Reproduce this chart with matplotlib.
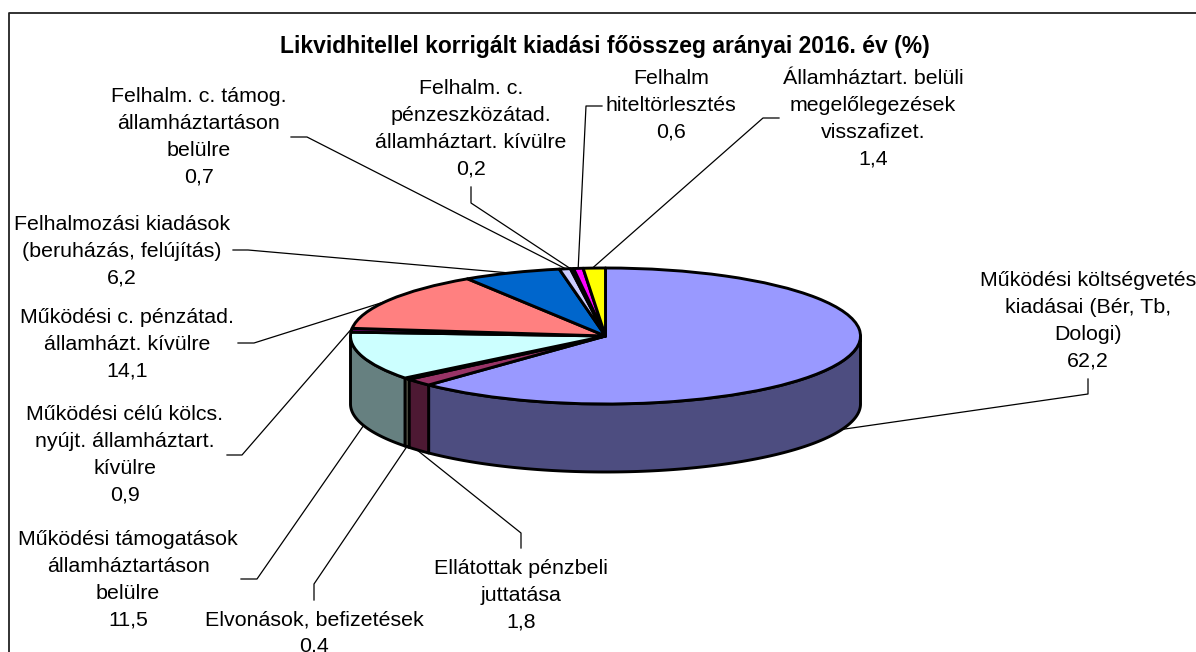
#!/usr/bin/env python3
#encoding: utf-8

import matplotlib
matplotlib.use("Agg")
import matplotlib.pyplot as plt
import numpy as np

title = "Likvidhitellel korrigált kiadási főösszeg arányai 2016. év (%)"

names = [
    "Működési költségvetés\nkiadásai (Bér, Tb,\nDologi)",
    "Ellátottak pénzbeli\njuttatása",
    "Elvonások, befizetések",
    "Működési támogatások\nállamháztartáson\nbelülre",
    "Működési célú kölcs.\nnyújt. államháztart.\nkívülre",
    "Működési c. pénzátad.\nállamházt. kívülre",
    "Felhalmozási kiadások\n(beruházás, felújítás)",
    "Felhalm. c. támog.\nállamháztartáson\nbelülre",
    "Felhalm. c.\npénzeszközátad.\nállamháztart. kívülre",
    "Felhalm\nhiteltörlesztés",
    "Államháztart. belüli\nmegelőlegezések\nvisszafizet.",
]
values = [62.2, 1.8, 0.4, 11.5, 0.9, 14.1, 6.2, 0.7, 0.2, 0.6, 1.4]
top_colors = ["#9999FF", "#993366", "#FFFFCC", "#CCFFFF", "#660066", "#FF8080",
              "#0066CC", "#CCCCFF", "#000080", "#FF00FF", "#FFFF00"]
side_colors = ["#4D4D80", "#4D1933", "#80806A", "#668080", "#330033", "#804040",
               "#003366", "#666680", "#000040", "#800080", "#808000"]

# label centre x, y of first line centre in pixels
label_pos = [(1088, 279), (521, 567), (314, 618), (128, 538), (125, 413),
             (127, 316), (122, 223), (199, 95), (471, 87), (671, 77), (873, 77)]
# leader lines in pixels, first point goes under the pie
leaders = [
    [(824, 432), (1088, 394), (1088, 379)],
    [(412, 446), (521, 533), (521, 548)],
    [(410, 442), (314, 584), (314, 600)],
    [(366, 422), (257, 579), (241, 579)],
    [(354, 326), (242, 455), (227, 455)],
    [(387, 301), (254, 343), (238, 343)],
    [(510, 273), (248, 250), (233, 250)],
    [(570, 271), (307, 137), (291, 137)],
    [(574, 271), (471, 203), (471, 187)],
    [(578, 272), (586, 106), (602, 106)],
    [(588, 272), (763, 118), (779, 118)],
]

W, H = 1196, 652
cx, cy, rx, ry, depth = 605.5, 336, 255, 68, 68

plt.rcParams["font.family"] = ["Liberation Sans", "DejaVu Sans"]
fig = plt.figure(figsize=(W / 100, H / 100), dpi=100)

ax = fig.add_axes([0, 0, 1, 1])
ax.set_xlim(0, W)
ax.set_ylim(H, 0)
ax.axis("off")

# frame, only top and left are in the picture
ax.plot([9, 9, W + 5], [H + 5, 13, 13], c="#222222", lw=1.3)

ax.text(605, 47, title, ha="center", va="center", fontsize=16.5, fontweight="bold")

for pts in leaders:
    ax.plot([p[0] for p in pts], [p[1] for p in pts], c="black", lw=0.9, zorder=1)

# side wall first, clockwise from 12 o'clock
pa = fig.add_axes([(cx - rx) / W, 1 - (cy + ry) / H, 2 * rx / W, 2 * ry / H])
d = depth / ry
ang = np.cumsum([0] + values) / 100 * 2 * np.pi
for i in range(len(values)):
    a0, a1 = max(ang[i], np.pi / 2), min(ang[i + 1], 3 * np.pi / 2)
    if a1 <= a0:
        continue
    t = np.linspace(a0, a1, 150)
    x = np.sin(t)
    y = np.cos(t)
    pa.fill(np.r_[x, x[::-1]], np.r_[y, y[::-1] - d], fc=side_colors[i], ec="black",
            lw=2.1, clip_on=False, joinstyle="round")

pa.pie(values, colors=top_colors, startangle=90, counterclock=False, radius=1, frame=True,
       wedgeprops=dict(ec="black", lw=2.1, clip_on=False, joinstyle="round"))
pa.set_aspect("auto")
pa.set_xlim(-1, 1)
pa.set_ylim(-1, 1)
pa.axis("off")

for name, val, pos in zip(names, values, label_pos):
    txt = name + "\n" + str(val).replace(".", ",")
    ax.text(pos[0], pos[1] - 8, txt, ha="center", va="top", fontsize=15.4, linespacing=1.52)

fig.savefig("out.png", dpi=100)
